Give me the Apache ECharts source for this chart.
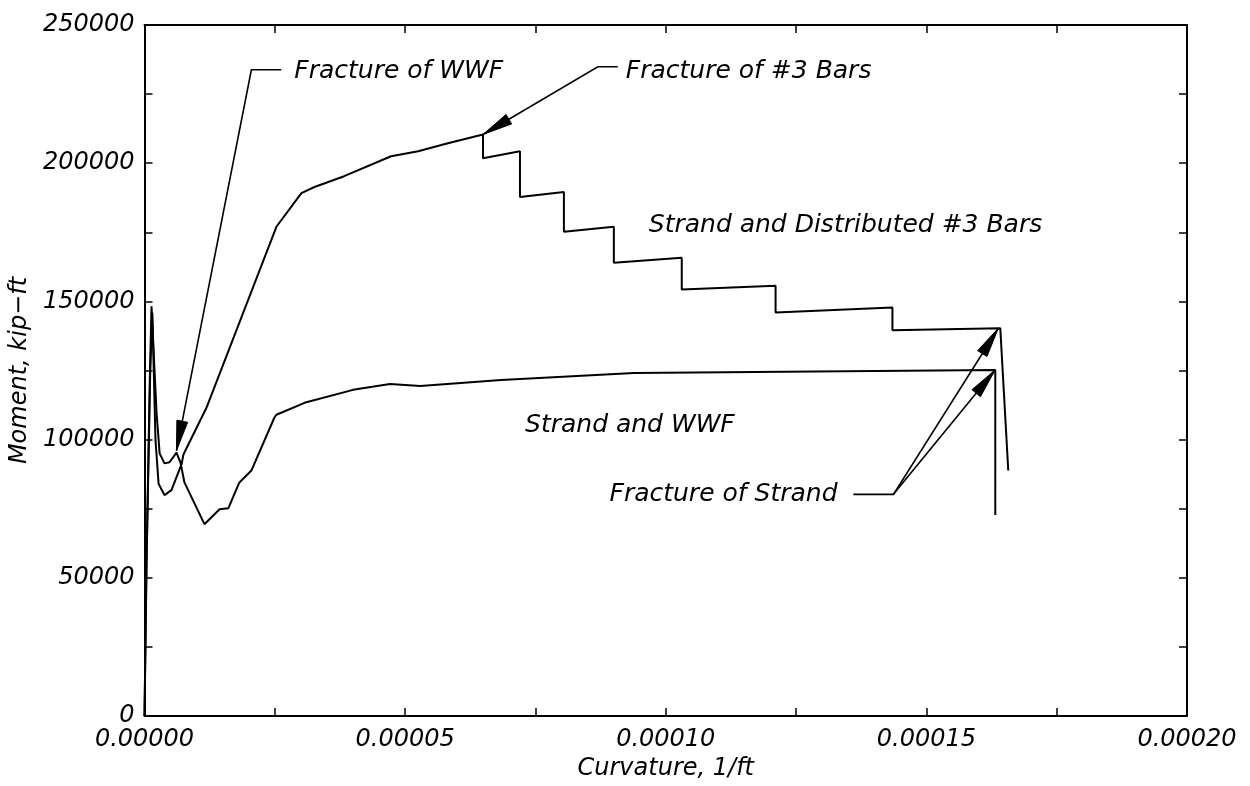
<!DOCTYPE html>
<html>
<head>
<meta charset="utf-8">
<script src="https://cdn.jsdelivr.net/npm/echarts@6/dist/echarts.min.js"></script>
<style>
html,body{margin:0;padding:0;background:#fff;}
#chart{width:1250px;height:786px;}
</style>
</head>
<body>
<div id="chart"></div>
<script>
// ---- Data: Strand and WWF ----
const curvWWF = [0, 3.8e-7, 1.0e-6, 1.34e-6, 2.3e-6, 2.9e-6, 3.83e-6, 4.8e-6, 6.13e-6, 6.9e-6, 7.66e-6, 1.149e-5, 1.44e-5, 1.609e-5, 1.82e-5, 2.05e-5, 2.49e-5, 2.53e-5, 3.07e-5, 4.00e-5, 4.71e-5, 5.29e-5, 6.84e-5, 9.39e-5, 1.6322e-4, 1.6322e-4];
const momWWF  = [0, 55000, 120000, 148200, 110000, 95000, 91400, 91800, 95300, 91700, 84500, 69400, 74800, 75200, 84500, 88800, 107900, 109000, 113300, 118000, 120100, 119400, 121600, 124100, 125200, 72700];

// ---- Data: Strand and Distributed #3 Bars ----
const curvBars = [0, 3.8e-7, 1.1e-6, 1.5e-6, 2.1e-6, 2.7e-6, 3.83e-6, 5.17e-6, 7.09e-6, 7.47e-6, 1.188e-5, 2.53e-5, 3.01e-5, 3.26e-5, 3.83e-5, 4.73e-5, 5.25e-5, 5.82e-5, 6.494e-5, 6.494e-5, 7.203e-5, 7.203e-5, 8.046e-5, 8.046e-5, 9.004e-5, 9.004e-5, 1.0307e-4, 1.0307e-4, 1.2107e-4, 1.2107e-4, 1.4349e-4, 1.4349e-4, 1.6418e-4, 1.6571e-4];
const momBars  = [0, 55000, 125000, 146000, 100000, 84000, 79900, 81700, 91000, 94600, 111500, 177000, 189200, 191400, 195300, 202500, 204300, 207200, 210400, 201800, 204300, 187800, 189600, 175200, 177000, 164000, 165800, 154300, 155700, 146000, 147800, 139600, 140300, 88800];

// ---- Axis ticks ----
const xTickStep = 0.000025;
const xLabelStep = 0.00005;
const yTickStep = 25000;
const yLabelStep = 50000;
const xMax = 0.0002;
const yMax = 250000;

// ---- Annotations (data coordinates) ----
const annoLabels = ['Fracture of WWF', 'Fracture of #3 Bars', 'Strand and Distributed #3 Bars', 'Strand and WWF', 'Fracture of Strand'];
const annoX = [2.874e-5, 9.234e-5, 9.674e-5, 7.30e-5, 1.3295e-4];
const annoY = [233100, 233100, 177300, 105000, 80200];
const annoAlign = ['left', 'left', 'left', 'left', 'right'];
const leaderWWF = [[2.624e-5, 233800], [2.05e-5, 233800], [6.13e-6, 96000]];
const leaderBars = [[9.08e-5, 234900], [8.697e-5, 234900], [6.494e-5, 210400]];
const leaderStrandA = [[1.360e-4, 80200], [1.4368e-4, 80200], [1.638e-4, 140300]];
const leaderStrandB = [[1.4368e-4, 80200], [1.632e-4, 125200]];
const leaders = [leaderWWF, leaderBars, leaderStrandA, leaderStrandB];

const FONT = '"DejaVu Sans", sans-serif';

function pairs(xs, ys) { return xs.map((x, i) => [x, ys[i]]); }

const chart = echarts.init(document.getElementById('chart'), null, {renderer: 'canvas'});

function renderAnno(params, api) {
  const children = [];
  if (params.dataIndex === 0) {
    leaders.forEach(function (pts) {
      const px = pts.map(p => api.coord(p));
      children.push({type: 'polyline', shape: {points: px}, style: {stroke: '#000', lineWidth: 1.6, fill: null}});
      const tip = px[px.length - 1], prev = px[px.length - 2];
      const dx = tip[0] - prev[0], dy = tip[1] - prev[1];
      const L = Math.sqrt(dx * dx + dy * dy);
      const ux = dx / L, uy = dy / L;
      const len = 30, hw = 5.5;
      const bx = tip[0] - ux * len, by = tip[1] - uy * len;
      children.push({type: 'polygon', shape: {points: [tip, [bx - uy * hw, by + ux * hw], [bx + uy * hw, by - ux * hw]]}, style: {fill: '#000', stroke: '#000', lineWidth: 1}});
    });
  }
  const i = params.dataIndex;
  const p = api.coord([annoX[i], annoY[i]]);
  children.push({type: 'text', x: p[0], y: p[1], style: {text: annoLabels[i], fill: '#000', font: 'italic 25px ' + FONT, align: annoAlign[i], verticalAlign: 'middle'}});
  return {type: 'group', children: children};
}

const axisLineStyle = {color: '#000', width: 2};
const labelStyle = {color: '#000', fontFamily: FONT, fontStyle: 'italic', fontSize: 24};

const option = {
  animation: false,
  backgroundColor: '#fff',
  grid: {left: 143, right: 63, top: 25, bottom: 66, containLabel: false},
  xAxis: [{
    type: 'value', min: 0, max: xMax, interval: xTickStep, position: 'bottom',
    axisLine: {show: true, lineStyle: axisLineStyle, onZero: false},
    axisTick: {show: true, inside: true, length: 8, lineStyle: {color: '#000', width: 1.5}},
    splitLine: {show: false},
    axisLabel: Object.assign({margin: 12, formatter: function (v) {
      const k = Math.round(v / xTickStep);
      return (k % Math.round(xLabelStep / xTickStep) === 0) ? (k * xTickStep).toFixed(5) : '';
    }}, labelStyle),
    name: 'Curvature, 1/ft', nameLocation: 'middle', nameGap: 41,
    nameTextStyle: {color: '#000', fontFamily: FONT, fontStyle: 'italic', fontSize: 24}
  }, {
    type: 'value', min: 0, max: xMax, interval: xTickStep, position: 'top',
    axisLine: {show: true, lineStyle: axisLineStyle, onZero: false},
    axisTick: {show: true, inside: true, length: 8, lineStyle: {color: '#000', width: 1.5}},
    axisLabel: {show: false}, splitLine: {show: false}
  }],
  yAxis: [{
    type: 'value', min: 0, max: yMax, interval: yTickStep, position: 'left',
    axisLine: {show: true, lineStyle: axisLineStyle, onZero: false},
    axisTick: {show: true, inside: true, length: 8, lineStyle: {color: '#000', width: 1.5}},
    splitLine: {show: false},
    axisLabel: Object.assign({margin: 10, formatter: function (v) {
      const k = Math.round(v / yTickStep);
      return (k % Math.round(yLabelStep / yTickStep) === 0) ? String(k * yTickStep) : '';
    }}, labelStyle),
    name: 'Moment, kip\u2212ft', nameLocation: 'middle', nameGap: 106, nameRotate: 90,
    nameTextStyle: {color: '#000', fontFamily: FONT, fontStyle: 'italic', fontSize: 24}
  }, {
    type: 'value', min: 0, max: yMax, interval: yTickStep, position: 'right',
    axisLine: {show: true, lineStyle: axisLineStyle, onZero: false},
    axisTick: {show: true, inside: true, length: 8, lineStyle: {color: '#000', width: 1.5}},
    axisLabel: {show: false}, splitLine: {show: false}
  }],
  series: [{
    name: 'Strand and WWF', type: 'line', xAxisIndex: 0, yAxisIndex: 0,
    data: pairs(curvWWF, momWWF), showSymbol: false, symbol: 'none',
    lineStyle: {color: '#000', width: 2}, z: 3
  }, {
    name: 'Strand and Distributed #3 Bars', type: 'line', xAxisIndex: 0, yAxisIndex: 0,
    data: pairs(curvBars, momBars), showSymbol: false, symbol: 'none',
    lineStyle: {color: '#000', width: 2}, z: 3
  }, {
    name: 'annotations', type: 'custom', xAxisIndex: 0, yAxisIndex: 0,
    coordinateSystem: 'cartesian2d', clip: false, silent: true,
    data: annoLabels.map((t, i) => [annoX[i], annoY[i]]),
    renderItem: renderAnno, z: 4
  }]
};
chart.setOption(option);
</script>
</body>
</html>
